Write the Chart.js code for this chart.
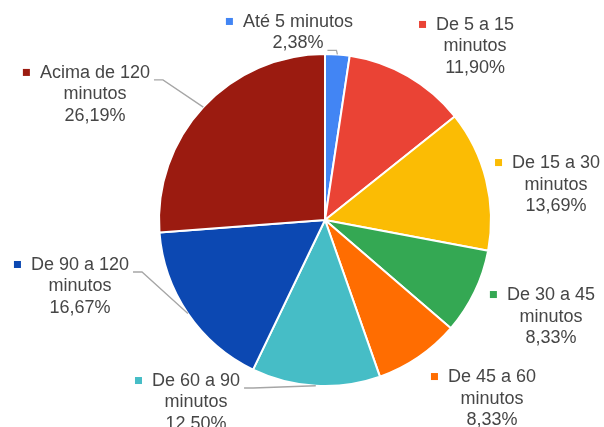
<!DOCTYPE html>
<html>
<head>
<meta charset="utf-8">
<script src="https://cdn.jsdelivr.net/npm/chart.js@4"></script>
<style>
  html, body { margin: 0; padding: 0; background: #fff; }
  #wrap { width: 604px; height: 427px; position: relative; }
</style>
</head>
<body>
<div id="wrap"><canvas id="chart"></canvas></div>
<script>
// categories and shares (%)
var categories = ["Até 5 minutos", "De 5 a 15 minutos", "De 15 a 30 minutos", "De 30 a 45 minutos",
                  "De 45 a 60 minutos", "De 60 a 90 minutos", "De 90 a 120 minutos", "Acima de 120 minutos"];
var shares = [2.38, 11.90, 13.69, 8.33, 8.33, 12.50, 16.67, 26.19];
var colors = ["#4285f4", "#ea4335", "#fbbc04", "#34a853", "#ff6d01", "#46bdc6", "#0c48b2", "#9b1b10"];

// where each label block sits, relative to the pie centre (in radius units),
// and which line (if any) gets a leader line to its slice
var labelPlace = [
  {dx: -0.163, dy: -1.193, leader: 1},
  {dx: 0.904, dy: -1.175, leader: -1},
  {dx: 1.392, dy: -0.343, leader: -1},
  {dx: 1.361, dy: 0.452, leader: -1},
  {dx: 1.006, dy: 0.946, leader: -1},
  {dx: -0.777, dy: 0.970, leader: 0},
  {dx: -1.476, dy: 0.271, leader: 0},
  {dx: -1.386, dy: -0.886, leader: 0}
];

var FONT = "18px 'Liberation Sans', Arial, sans-serif";
var LINE_H = 21.5;

function pct(v) {
  return v.toFixed(2).replace(".", ",") + "%";
}

function wrapText(ctx, text, maxW) {
  var words = text.split(" ");
  var lines = [];
  var cur = "";
  for (var i = 0; i < words.length; i++) {
    var test = cur ? cur + " " + words[i] : words[i];
    if (ctx.measureText(test).width > maxW && cur) {
      lines.push(cur);
      cur = words[i];
    } else {
      cur = test;
    }
  }
  if (cur) lines.push(cur);
  return lines;
}

var outLabels = {
  id: "outLabels",
  afterDraw: function(chart) {
    var ctx = chart.ctx;
    var meta = chart.getDatasetMeta(0);
    var first = meta.data[0];
    var cx = first.x, cy = first.y, r = first.outerRadius;
    ctx.save();
    ctx.font = FONT;
    ctx.textBaseline = "middle";
    ctx.textAlign = "center";
    for (var i = 0; i < meta.data.length; i++) {
      var arc = meta.data[i];
      var place = labelPlace[i];
      var lines = wrapText(ctx, categories[i], 120);
      lines.push(pct(shares[i]));
      var bx = cx + place.dx * r;
      var by = cy + place.dy * r;

      ctx.fillStyle = "#464646";
      for (var k = 0; k < lines.length; k++) {
        ctx.fillText(lines[k], bx, by + k * LINE_H);
      }
      // colour square before the first line
      var w0 = ctx.measureText(lines[0]).width;
      ctx.fillStyle = colors[i];
      ctx.fillRect(bx - w0 / 2 - 17, by - 4, 7, 7);

      // leader line
      if (place.leader >= 0) {
        var ln = place.leader;
        var wl = ctx.measureText(lines[ln]).width;
        var sx = bx + wl / 2 + 4;
        var sy = by + ln * LINE_H + 7;
        var mid = (arc.startAngle + arc.endAngle) / 2;
        var ex = cx + Math.cos(mid) * r;
        var ey = cy + Math.sin(mid) * r;
        ctx.strokeStyle = "#a6a6a6";
        ctx.lineWidth = 1.3;
        ctx.beginPath();
        ctx.moveTo(sx, sy);
        ctx.lineTo(sx + 9, sy);
        ctx.lineTo(ex, ey);
        ctx.stroke();
      }
    }
    ctx.restore();
  }
};

new Chart(document.getElementById("chart"), {
  type: "pie",
  data: {
    labels: categories,
    datasets: [
      {
        data: shares,
        backgroundColor: colors,
        borderColor: "#ffffff",
        borderWidth: 2,
        hoverOffset: 0
      }
    ]
  },
  options: {
    responsive: true,
    maintainAspectRatio: false,
    animation: false,
    events: [],
    layout: { padding: { left: 158, right: 112, top: 53, bottom: 40 } },
    plugins: {
      legend: { display: false },
      tooltip: { enabled: false }
    }
  },
  plugins: [outLabels]
});
</script>
</body>
</html>
